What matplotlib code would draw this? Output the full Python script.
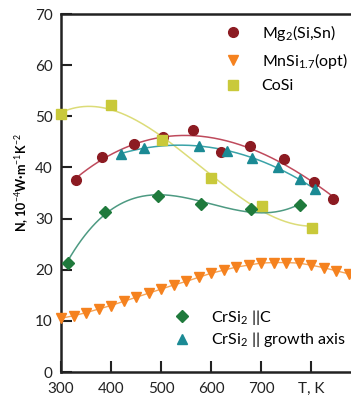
import numpy as np
import matplotlib
matplotlib.use("Agg")
import matplotlib.pyplot as plt
from matplotlib.lines import Line2D

plt.rcParams['font.family'] = ['Lato', 'DejaVu Sans']
plt.rcParams['mathtext.fontset'] = 'custom'
plt.rcParams['mathtext.rm'] = 'Lato'
plt.rcParams['mathtext.bf'] = 'Lato:bold'

# Mg2(Si,Sn)
mg_T = [330, 381, 446, 504, 563, 619, 678, 746, 805, 843]
mg_N = [37.5, 42.0, 44.6, 45.9, 47.3, 43.1, 44.2, 41.6, 37.2, 33.9]

# MnSi1.7 (opt), measured every 25 K
mn_T = list(range(300, 900, 25))
mn_N = [10.5, 11.0, 11.6, 12.3, 13.0, 13.8, 14.6, 15.4, 16.2, 17.0, 17.7, 18.5,
        19.3, 19.9, 20.5, 20.9, 21.3, 21.4, 21.4, 21.3, 20.9, 20.4, 19.8, 19.2]

# CoSi
co_T = [300, 400, 501, 600, 701, 801]
co_N = [50.4, 52.3, 45.4, 37.9, 32.5, 28.2]

# CrSi2 || C
crc_T = [313, 388, 493, 579, 679, 778]
crc_N = [21.4, 31.3, 34.5, 32.9, 31.8, 32.7]

# CrSi2 || growth axis
crg_T = [420, 465, 575, 631, 682, 733, 778, 807]
crg_N = [42.7, 43.8, 44.2, 43.2, 41.9, 40.0, 37.7, 35.7]

fig = plt.figure(figsize=(3.51, 3.95), dpi=100)
ax = fig.add_axes([61/351, 23/395, 290/351, 358/395])


def trend(T, N, deg, color):
    # smooth polynomial trend through the measured points
    c = np.polyfit(T, N, deg)
    t = np.linspace(min(T), max(T), 200)
    ax.plot(t, np.polyval(c, t), color=color, lw=1.1, zorder=2)


trend(co_T, co_N, 3, '#dcdc78')
trend(mg_T, mg_N, 3, '#bf4a5c')
trend(crg_T, crg_N, 2, '#3aa3a8')
trend(crc_T, crc_N, 3, '#4d9a82')
ax.plot(mn_T, mn_N, color='#f7a456', lw=1.0, zorder=2)

ax.plot(mg_T, mg_N, 'o', color='#8c1b22', ms=7, zorder=3)
ax.plot(mn_T, mn_N, 'v', color='#f5821f', ms=6.5, zorder=3, clip_on=False)
ax.plot(co_T, co_N, 's', color='#c9c93a', ms=6.5, zorder=3, clip_on=False)
ax.plot(crc_T, crc_N, 'D', color='#1f7a3c', ms=6, zorder=3)
ax.plot(crg_T, crg_N, '^', color='#1b8a94', ms=7, zorder=3)

ax.set_xlim(300, 880)
ax.set_ylim(0, 70)
ax.set_xticks([300, 400, 500, 600, 700, 800])
ax.set_xticklabels(['300', '400', '500', '600', '700', 'T, K'])
ax.set_yticks(range(0, 71, 10))
ax.tick_params(direction='in', length=8, width=1.5, labelsize=11, colors='#222222')
ax.tick_params(axis='x', pad=7)
ax.tick_params(axis='y', pad=6)
for s in ['left', 'bottom', 'top']:
    ax.spines[s].set_linewidth(1.8)
    ax.spines[s].set_color('#222222')
ax.spines['right'].set_visible(False)

ax.set_ylabel('N, 10$^{-4}$W·m$^{-1}$K$^{-2}$', fontsize=9, fontweight='bold')
ax.yaxis.set_label_coords(-0.105, 0.53)


def mk(marker, color, ms):
    return Line2D([], [], ls='none', marker=marker, color=color, ms=ms)


leg_kw = dict(loc='upper left', bbox_transform=fig.transFigure, frameon=False,
              fontsize=11.5, handlelength=1.0, handletextpad=1.3,
              borderpad=0, borderaxespad=0)
leg1 = ax.legend([mk('o', '#8c1b22', 7), mk('v', '#f5821f', 6.5), mk('s', '#c9c93a', 6.5)],
                 ['Mg$_2$(Si,Sn)', 'MnSi$_{1.7}$(opt)', 'CoSi'],
                 bbox_to_anchor=(225/351, 1 - 23/395), labelspacing=0.5, **leg_kw)
ax.add_artist(leg1)
ax.legend([mk('D', '#1f7a3c', 6), mk('^', '#1b8a94', 7)],
          ['CrSi$_2$ ||C', 'CrSi$_2$ || growth axis'],
          bbox_to_anchor=(174/351, 1 - 308/395), labelspacing=0.2, **leg_kw)

fig.savefig('out.png', dpi=100)
